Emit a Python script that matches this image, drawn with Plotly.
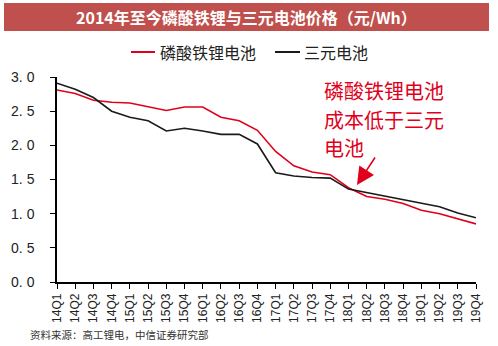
import plotly.graph_objects as go

quarters = ["14Q1","14Q2","14Q3","14Q4","15Q1","15Q2","15Q3","15Q4",
            "16Q1","16Q2","16Q3","16Q4","17Q1","17Q2","17Q3","17Q4",
            "18Q1","18Q2","18Q3","18Q4","19Q1","19Q2","19Q3","19Q4"]
lfp = [2.81, 2.76, 2.66, 2.63, 2.62, 2.56, 2.51, 2.56, 2.56, 2.41, 2.36, 2.22,
       1.91, 1.70, 1.61, 1.57, 1.38, 1.25, 1.21, 1.15, 1.05, 1.00, 0.92, 0.85]
ncm = [2.91, 2.82, 2.70, 2.50, 2.41, 2.36, 2.21, 2.25, 2.21, 2.16, 2.16, 2.02,
       1.60, 1.55, 1.53, 1.52, 1.36, 1.31, 1.26, 1.21, 1.15, 1.10, 1.01, 0.94]
yticks = [0, 0.5, 1.0, 1.5, 2.0, 2.5, 3.0]
ytick_text = ["0. 0", "0. 5", "1. 0", "1. 5", "2. 0", "2. 5", "3. 0"]
name_lfp = "磷酸铁锂电池"
name_ncm = "三元电池"
title = "2014年至今磷酸铁锂与三元电池价格（元/Wh）"
source = "资料来源：高工锂电，中信证券研究部"
note_lines = ["磷酸铁锂电池", "成本低于三元", "电池"]

RED = "#E0001B"
BLACK = "#1a1a1a"

# plot area in pixels
L, R, T, B = 57, 476, 77, 282
W, H = R - L, B - T
def px(x): return (x - L) / W
def py(y): return (B - y) / H

fig = go.Figure()
fig.add_trace(go.Scatter(x=list(range(len(quarters))), y=lfp, mode="lines",
                         line=dict(color=RED, width=1.6), name=name_lfp))
fig.add_trace(go.Scatter(x=list(range(len(quarters))), y=ncm, mode="lines",
                         line=dict(color=BLACK, width=1.6), name=name_ncm))

shapes = [
    dict(type="rect", xref="paper", yref="paper", x0=px(4), x1=px(489), y0=py(31), y1=py(3),
         fillcolor="#C0504D", line=dict(width=0), layer="below"),
    dict(type="line", xref="paper", yref="paper", x0=px(131), x1=px(155), y0=py(52), y1=py(52),
         line=dict(color=RED, width=2)),
    dict(type="line", xref="paper", yref="paper", x0=px(275), x1=px(300), y0=py(52), y1=py(52),
         line=dict(color=BLACK, width=2)),
]

AX_FONT = "Liberation Sans, Arial, sans-serif"
CJK = "Noto Sans CJK SC, sans-serif"
annotations = [
    dict(xref="paper", yref="paper", x=px(246), y=py(17), text="<b>" + title + "</b>",
         showarrow=False, font=dict(family=CJK, size=16, color="white"),
         xanchor="center", yanchor="middle"),
    dict(xref="paper", yref="paper", x=px(158), y=py(52), text=name_lfp, showarrow=False,
         font=dict(family=CJK, size=16, color="#222"), xanchor="left", yanchor="middle"),
    dict(xref="paper", yref="paper", x=px(302), y=py(52), text=name_ncm, showarrow=False,
         font=dict(family=CJK, size=16, color="#222"), xanchor="left", yanchor="middle"),
    dict(xref="paper", yref="paper", x=px(357), y=py(185), ax=19, ay=-29, text="",
         showarrow=True, arrowhead=2, arrowsize=2.2, arrowwidth=1.6, arrowcolor=RED),
    dict(xref="paper", yref="paper", x=px(28), y=py(334), text=source, showarrow=False,
         font=dict(family=CJK, size=10.5, color="#333"), xanchor="left", yanchor="middle"),
]
for i, (line, yc) in enumerate(zip(note_lines, [91, 119, 147])):
    annotations.append(dict(xref="paper", yref="paper", x=px(322), y=py(yc), text=line,
                            showarrow=False, font=dict(family=CJK, size=20, color=RED),
                            xanchor="left", yanchor="middle"))

fig.update_layout(
    width=498, height=346,
    margin=dict(l=L, r=498 - R, t=T, b=346 - B),
    paper_bgcolor="white", plot_bgcolor="white",
    showlegend=False,
    shapes=shapes, annotations=annotations,
    xaxis=dict(range=[0, len(quarters) - 1], tickmode="array",
               tickvals=list(range(len(quarters))), ticktext=quarters,
               tickangle=-90, showgrid=False, zeroline=False,
               showline=True, linecolor="black", linewidth=1.5,
               ticks="outside", ticklen=5, tickcolor="black", tickwidth=1,
               tickfont=dict(family=AX_FONT, size=12, color="#222")),
    yaxis=dict(range=[0, 3.0], tickmode="array", tickvals=yticks, ticktext=ytick_text,
               showgrid=False, zeroline=False,
               showline=True, linecolor="black", linewidth=1.5,
               ticks="outside", ticklen=5, tickcolor="black", tickwidth=1,
               ticklabelstandoff=13,
               tickfont=dict(family=AX_FONT, size=14, color="#222")),
)

fig.write_html("out.html")
